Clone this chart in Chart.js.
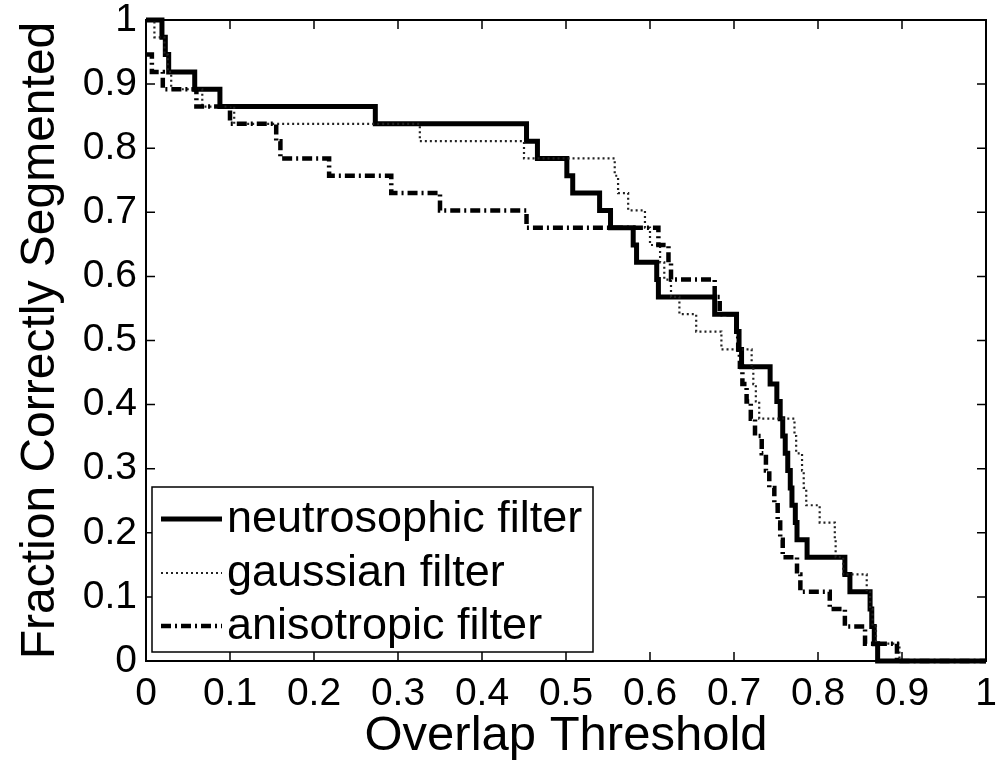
<!DOCTYPE html>
<html><head><meta charset="utf-8">
<script src="https://cdn.jsdelivr.net/npm/chart.js@4/dist/chart.umd.min.js"></script>
<style>html,body{margin:0;padding:0;background:#fff}#wrap{width:999px;height:766px;position:relative}</style>
</head><body><div id="wrap"><canvas id="c" width="999" height="766"></canvas></div>
<script>
const seriesNames = ['neutrosophic filter', 'gaussian filter', 'anisotropic filter'];

const neutroX = [0, 0.019, 0.023, 0.027, 0.058, 0.088, 0.273, 0.453, 0.466, 0.501, 0.508, 0.540, 0.553, 0.580, 0.584, 0.608, 0.610, 0.677, 0.703, 0.706, 0.709, 0.743, 0.751, 0.755, 0.758, 0.761, 0.764, 0.767, 0.769, 0.773, 0.775, 0.787, 0.832, 0.838, 0.862, 0.864, 0.867, 0.871, 1];
const neutroY = [1, 0.973, 0.946, 0.919, 0.892, 0.865, 0.838, 0.811, 0.784, 0.757, 0.730, 0.703, 0.676, 0.649, 0.622, 0.595, 0.568, 0.541, 0.514, 0.486, 0.459, 0.432, 0.405, 0.378, 0.351, 0.324, 0.297, 0.270, 0.243, 0.216, 0.189, 0.162, 0.135, 0.108, 0.081, 0.054, 0.027, 0, 0];

const gaussX = [0, 0.010, 0.022, 0.026, 0.030, 0.067, 0.105, 0.326, 0.450, 0.558, 0.562, 0.574, 0.594, 0.600, 0.612, 0.617, 0.625, 0.635, 0.655, 0.685, 0.721, 0.723, 0.726, 0.730, 0.772, 0.774, 0.781, 0.783, 0.786, 0.802, 0.820, 0.821, 0.830, 0.858, 0.862, 0.865, 0.869, 0.897, 1];
const gaussY = [1, 0.973, 0.946, 0.919, 0.892, 0.865, 0.838, 0.811, 0.784, 0.757, 0.730, 0.703, 0.676, 0.649, 0.622, 0.595, 0.568, 0.541, 0.514, 0.486, 0.459, 0.432, 0.405, 0.378, 0.351, 0.324, 0.297, 0.270, 0.243, 0.216, 0.189, 0.162, 0.135, 0.108, 0.081, 0.054, 0.027, 0, 0];

const anisoX = [0, 0.007, 0.020, 0.060, 0.100, 0.155, 0.160, 0.218, 0.292, 0.350, 0.453, 0.610, 0.622, 0.625, 0.677, 0.683, 0.703, 0.705, 0.707, 0.710, 0.715, 0.720, 0.725, 0.733, 0.738, 0.742, 0.748, 0.752, 0.755, 0.758, 0.775, 0.779, 0.814, 0.832, 0.856, 0.894, 1];
const anisoY = [0.946, 0.919, 0.892, 0.865, 0.838, 0.811, 0.784, 0.757, 0.730, 0.703, 0.676, 0.649, 0.622, 0.595, 0.568, 0.541, 0.514, 0.486, 0.459, 0.432, 0.405, 0.378, 0.351, 0.324, 0.297, 0.270, 0.243, 0.216, 0.189, 0.162, 0.135, 0.108, 0.081, 0.054, 0.027, 0, 0];

const tickValues = [0, 0.1, 0.2, 0.3, 0.4, 0.5, 0.6, 0.7, 0.8, 0.9, 1];
const tickLabels = ['0', '0.1', '0.2', '0.3', '0.4', '0.5', '0.6', '0.7', '0.8', '0.9', '1'];

const xTitle = 'Overlap Threshold';
const yTitle = 'Fraction Correctly Segmented';

const FONT = '"Liberation Sans", Arial, Helvetica, sans-serif';

function pts(xs, ys) { return xs.map((x, i) => ({ x: x, y: ys[i] })); }

const styles = [
  { borderColor: '#000', borderWidth: 5, borderDash: [] },
  { borderColor: '#222', borderWidth: 2.2, borderDash: [2, 3] },
  { borderColor: '#000', borderWidth: 4.5, borderDash: [10, 4, 2, 4] }
];

const datasets = [
  Object.assign({ label: seriesNames[0], data: pts(neutroX, neutroY) }, styles[0]),
  Object.assign({ label: seriesNames[1], data: pts(gaussX, gaussY) }, styles[1]),
  Object.assign({ label: seriesNames[2], data: pts(anisoX, anisoY) }, styles[2])
].map(d => Object.assign(d, { stepped: 'before', pointRadius: 0, fill: false, clip: 6, borderCapStyle: 'butt', borderJoinStyle: 'miter' }));
datasets.reverse();

const framePlugin = {
  id: 'frame',
  afterDatasetsDraw(chart) {
    const { ctx, chartArea: { left, right, top, bottom }, scales: { x, y } } = chart;
    ctx.save();
    ctx.strokeStyle = '#000';
    ctx.lineWidth = 2;
    ctx.strokeRect(left, top, right - left, bottom - top);
    ctx.lineWidth = 1.5;
    const L = 9;
    ctx.beginPath();
    tickValues.forEach(v => {
      const px = x.getPixelForValue(v);
      ctx.moveTo(px, bottom); ctx.lineTo(px, bottom - L);
      ctx.moveTo(px, top); ctx.lineTo(px, top + L);
      const py = y.getPixelForValue(v);
      ctx.moveTo(left, py); ctx.lineTo(left + L, py);
      ctx.moveTo(right, py); ctx.lineTo(right - L, py);
    });
    ctx.stroke();

    const bx = 152, by = 487, bw = 441, bh = 165;
    ctx.fillStyle = '#fff';
    ctx.fillRect(bx, by, bw, bh);
    ctx.lineWidth = 1.5;
    ctx.strokeStyle = '#000';
    ctx.strokeRect(bx, by, bw, bh);
    const rows = [519, 573, 626];
    [0, 1, 2].forEach((k, i) => {
      const st = styles[k];
      ctx.save();
      ctx.strokeStyle = st.borderColor;
      ctx.lineWidth = st.borderWidth;
      ctx.setLineDash(st.borderDash);
      ctx.lineCap = 'butt';
      ctx.beginPath();
      ctx.moveTo(161, rows[i]);
      ctx.lineTo(222, rows[i]);
      ctx.stroke();
      ctx.restore();
      ctx.fillStyle = '#000';
      ctx.font = '45px ' + FONT;
      ctx.textBaseline = 'middle';
      ctx.textAlign = 'left';
      ctx.fillText(seriesNames[k], 227, rows[i] + 1);
    });
    ctx.restore();
  }
};

Chart.defaults.font.family = FONT;
Chart.defaults.color = '#000';

new Chart(document.getElementById('c'), {
  type: 'line',
  data: { datasets: datasets },
  options: {
    responsive: false,
    animation: false,
    devicePixelRatio: 1,
    layout: { padding: { top: 20, right: 13, left: 0, bottom: 0 } },
    plugins: { legend: { display: false }, tooltip: { enabled: false } },
    scales: {
      x: {
        type: 'linear', min: 0, max: 1,
        grid: { display: false, drawTicks: false },
        border: { display: false },
        ticks: {
          stepSize: 0.1, padding: 10, font: { size: 39 }, color: '#000', maxRotation: 0, autoSkip: false,
          callback: (v, i) => tickLabels[i]
        },
        title: { display: true, text: xTitle, font: { size: 49 }, color: '#000', padding: { top: 0, bottom: 0 } },
        afterFit: s => { s.height = 105; s.paddingLeft = 0; s.paddingRight = 0; }
      },
      y: {
        type: 'linear', min: 0, max: 1,
        grid: { display: false, drawTicks: false },
        border: { display: false },
        ticks: {
          stepSize: 0.1, padding: 9, font: { size: 39 }, color: '#000', autoSkip: false,
          callback: (v, i) => tickLabels[i]
        },
        title: { display: true, text: yTitle, font: { size: 48 }, color: '#000', padding: { top: 12, bottom: 0 } },
        afterFit: s => { s.width = 146; s.paddingTop = 0; s.paddingBottom = 0; }
      }
    }
  },
  plugins: [framePlugin]
});
</script>
</body></html>
